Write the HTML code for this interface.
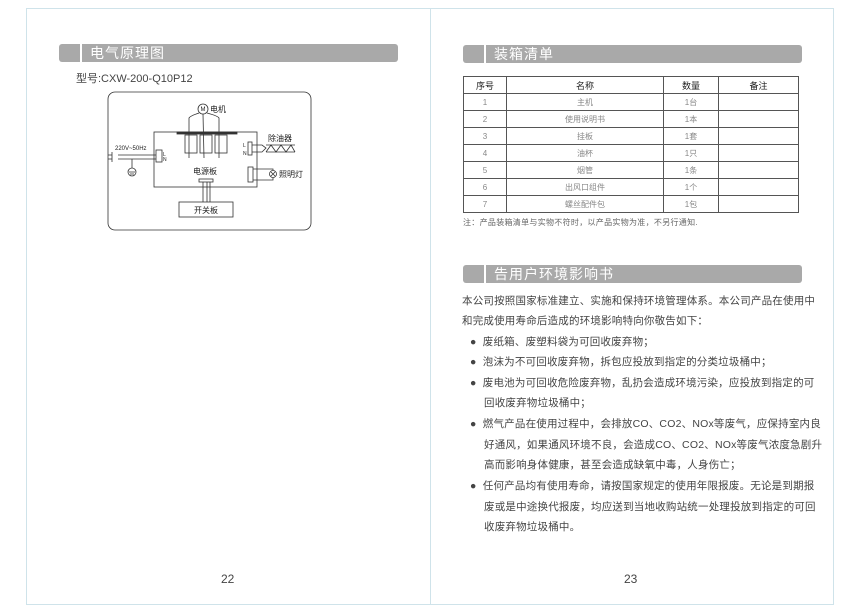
<!DOCTYPE html>
<html><head><meta charset="utf-8"><style>
body{margin:0;width:859px;height:613px;background:#fff;position:relative;overflow:hidden;font-family:"Liberation Sans","Noto Sans CJK SC",sans-serif;color:#333}
.a{position:absolute;white-space:nowrap}
.frame{position:absolute;border:1px solid #cfe3ea}
.bar{position:absolute;height:18px;background:#a9a9a9;border-radius:3px}
.bar i{position:absolute;left:21px;top:0;width:2px;height:18px;background:#fff}
.bar span{position:absolute;left:31px;top:0;line-height:18px;color:#fff;font-size:14px;letter-spacing:1px}
table{position:absolute;left:463px;top:76px;border-collapse:collapse;font-size:8px;color:#888}
td{border:1px solid #555;height:16px;padding:0;text-align:center}
tr:first-child td{color:#222;font-size:9px}
.t{font-size:10.5px;letter-spacing:0.2px;color:#444}
</style></head><body>
<div class="frame" style="left:26px;top:8px;width:806px;height:595px"></div>
<div class="a" style="left:430px;top:8px;width:1px;height:596px;background:#cfe3ea"></div>

<div class="bar" style="left:59px;top:44px;width:339px"><i></i><span>电气原理图</span></div>
<div class="a" style="left:76px;top:70px;font-size:11px;color:#444">型号:CXW-200-Q10P12</div>

<svg class="a" style="left:0;top:0" width="430" height="300" font-family="Liberation Sans,Noto Sans CJK SC,sans-serif">
<g fill="none" stroke="#333" stroke-width="0.8">
<rect x="108" y="92" width="203" height="138" rx="7"/>
<rect x="154" y="132" width="103" height="55"/>
<rect x="177" y="132" width="60" height="2" fill="#333"/>
<circle cx="203" cy="109" r="5"/>
<path d="M199 113 Q190 116 189 118 L189 158 M203 114 L204 158 M207 113 Q218 116 219 118 L219 158"/>
<rect x="185" y="135" width="12" height="18"/><rect x="200" y="135" width="12" height="18"/><rect x="215" y="135" width="12" height="18"/>
<rect x="179" y="202" width="54" height="15"/>
<rect x="199" y="179" width="14" height="3"/>
<path d="M203 182 V202 M207 182 V202 M210 182 V202"/>
<rect x="156" y="150" width="6" height="12"/>
<path d="M118 155 H156 M118 159 H156 M112 152 V162 M108 155 H112 M108 159 H112 M132 159 V168"/>
<circle cx="132" cy="172" r="4"/><path d="M129 172 H135 M130 174 H134"/>
<rect x="248" y="142" width="4" height="13"/>
<path d="M252 145 L262 145 L266 148 L262 152 L252 152"/>
<path d="M266 145 H295 M266 152 H295 M266 152 L271 145 L276 152 L281 145 L286 152 L291 145 L295 152"/>
<rect x="248" y="167" width="5" height="15"/>
<path d="M253 169 H273 V170 M253 180 H273 V178"/>
<circle cx="273" cy="174" r="3.5"/><path d="M271 172 L275 176 M275 172 L271 176"/>
</g>
<g font-size="7" fill="#222">
<text x="200.5" y="111" font-size="6">M</text>
<text x="210" y="112" font-size="8">电机</text>
<text x="268" y="141" font-size="8">除油器</text>
<text x="279" y="177" font-size="8">照明灯</text>
<text x="193" y="174" font-size="8">电源板</text>
<text x="194" y="213" font-size="8">开关板</text>
<text x="115" y="150" font-size="6">220V~50Hz</text>
<text x="163" y="156" font-size="5">L</text><text x="163" y="161" font-size="5">N</text>
<text x="243" y="147" font-size="5">L</text><text x="243" y="155" font-size="5">N</text>
</g>
</svg>

<div class="a" style="left:221px;top:572px;font-size:12px;color:#444">22</div>
<div class="a" style="left:624px;top:572px;font-size:12px;color:#444">23</div>

<div class="bar" style="left:463px;top:45px;width:339px"><i></i><span>装箱清单</span></div>
<table>
<tr><td style="width:42px">序号</td><td style="width:156px">名称</td><td style="width:54px">数量</td><td style="width:79px">备注</td></tr>
<tr><td>1</td><td>主机</td><td>1台</td><td></td></tr>
<tr><td>2</td><td>使用说明书</td><td>1本</td><td></td></tr>
<tr><td>3</td><td>挂板</td><td>1套</td><td></td></tr>
<tr><td>4</td><td>油杯</td><td>1只</td><td></td></tr>
<tr><td>5</td><td>烟管</td><td>1条</td><td></td></tr>
<tr><td>6</td><td>出风口组件</td><td>1个</td><td></td></tr>
<tr><td>7</td><td>螺丝配件包</td><td>1包</td><td></td></tr>
</table>
<div class="a" style="left:463px;top:217px;font-size:8px;color:#666;letter-spacing:0.3px">注：产品装箱清单与实物不符时，以产品实物为准，不另行通知.</div>

<div class="bar" style="left:463px;top:265px;width:339px"><i></i><span>告用户环境影响书</span></div>
<div class="a t" style="left:462px;top:293px">本公司按照国家标准建立、实施和保持环境管理体系。本公司产品在使用中</div>
<div class="a t" style="left:462px;top:313px">和完成使用寿命后造成的环境影响特向你敬告如下：</div>
<div class="a t" style="left:470px;top:334px">●&nbsp; 废纸箱、废塑料袋为可回收废弃物；</div>
<div class="a t" style="left:470px;top:354px">●&nbsp; 泡沫为不可回收废弃物，拆包应投放到指定的分类垃圾桶中；</div>
<div class="a t" style="left:470px;top:375px">●&nbsp; 废电池为可回收危险废弃物，乱扔会造成环境污染，应投放到指定的可</div>
<div class="a t" style="left:484px;top:395px">回收废弃物垃圾桶中；</div>
<div class="a t" style="left:470px;top:416px">●&nbsp; 燃气产品在使用过程中，会排放CO、CO2、NOx等废气，应保持室内良</div>
<div class="a t" style="left:484px;top:437px">好通风，如果通风环境不良，会造成CO、CO2、NOx等废气浓度急剧升</div>
<div class="a t" style="left:484px;top:457px">高而影响身体健康，甚至会造成缺氧中毒，人身伤亡；</div>
<div class="a t" style="left:470px;top:478px">●&nbsp; 任何产品均有使用寿命，请按国家规定的使用年限报废。无论是到期报</div>
<div class="a t" style="left:484px;top:499px">废或是中途换代报废，均应送到当地收购站统一处理投放到指定的可回</div>
<div class="a t" style="left:484px;top:519px">收废弃物垃圾桶中。</div>
</body></html>
